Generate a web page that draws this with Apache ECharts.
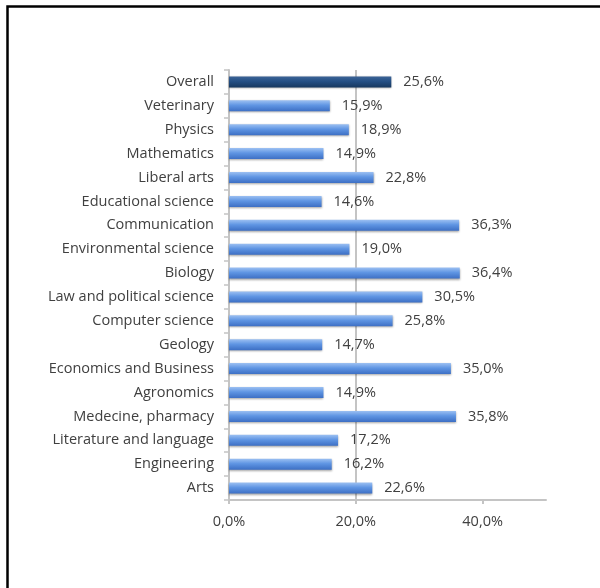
<!DOCTYPE html>
<html>
<head>
<meta charset="utf-8">
<style>
  html, body { margin: 0; padding: 0; background: #ffffff; }
  #chart { width: 600px; height: 588px; }
</style>
<script src="https://cdn.jsdelivr.net/npm/echarts@6/dist/echarts.min.js"></script>
</head>
<body>
<div id="chart"></div>
<script>
// Share by field of study, listed top to bottom
const categories = [
  'Overall', 'Veterinary', 'Physics', 'Mathematics', 'Liberal arts',
  'Educational science', 'Communication', 'Environmental science', 'Biology',
  'Law and political science', 'Computer science', 'Geology',
  'Economics and Business', 'Agronomics', 'Medecine, pharmacy',
  'Literature and language', 'Engineering', 'Arts'
];
const values = [
  25.6, 15.9, 18.9, 14.9, 22.8,
  14.6, 36.3, 19.0, 36.4,
  30.5, 25.8, 14.7,
  35.0, 14.9, 35.8,
  17.2, 16.2, 22.6
];
const tickValues = [0, 20, 40];

const fmt = v => v.toFixed(1).replace('.', ',') + '%';

const blueBar = new echarts.graphic.LinearGradient(0, 0, 0, 1, [
  { offset: 0, color: '#9cc0f2' },
  { offset: 0.45, color: '#5f95e3' },
  { offset: 1, color: '#3d6fc4' }
]);
const navyBar = new echarts.graphic.LinearGradient(0, 0, 0, 1, [
  { offset: 0, color: '#3d6497' },
  { offset: 0.45, color: '#244f84' },
  { offset: 1, color: '#17385f' }
]);

const font = '"Open Sans", Lato, sans-serif';
const fontSize = 14.5;

const chart = echarts.init(document.getElementById('chart'), null, { renderer: 'canvas' });
chart.setOption({
  animation: false,
  backgroundColor: '#ffffff',
  graphic: [{
    type: 'rect',
    shape: { x: 7.5, y: 6.5, width: 800, height: 800 },
    style: { fill: 'none', stroke: '#000000', lineWidth: 2.5 },
    silent: true
  }],
  grid: { left: 229, right: 54, top: 70, bottom: 88, containLabel: false },
  xAxis: {
    type: 'value',
    min: 0,
    max: 50,
    interval: 20,
    axisLine: { show: true, lineStyle: { color: '#c4c4c4', width: 2 } },
    axisTick: { show: true, length: 4, customValues: tickValues, lineStyle: { color: '#c4c4c4', width: 2 } },
    axisLabel: {
      customValues: tickValues,
      formatter: v => fmt(v),
      color: '#404040',
      fontFamily: font,
      fontSize: fontSize,
      margin: 14
    },
    splitLine: { show: true, showMinLine: false, showMaxLine: false, lineStyle: { color: '#c4c4c4', width: 2 } }
  },
  yAxis: {
    type: 'category',
    data: categories,
    inverse: true,
    axisLine: { show: true, lineStyle: { color: '#c4c4c4', width: 2 } },
    axisTick: { show: true, length: 5, lineStyle: { color: '#c4c4c4', width: 1.5 } },
    axisLabel: {
      color: '#404040',
      fontFamily: font,
      fontSize: fontSize,
      margin: 15
    },
    splitLine: { show: false }
  },
  series: [{
    type: 'bar',
    data: values.map((v, i) => ({
      value: v,
      itemStyle: { color: i === 0 ? navyBar : blueBar }
    })),
    barWidth: 11,
    itemStyle: {
      shadowColor: 'rgba(0,0,0,0.35)',
      shadowBlur: 2,
      shadowOffsetY: 1
    },
    label: {
      show: true,
      position: 'right',
      distance: 12,
      formatter: p => fmt(p.value),
      color: '#404040',
      fontFamily: font,
      fontSize: fontSize
    }
  }]
});
</script>
</body>
</html>
